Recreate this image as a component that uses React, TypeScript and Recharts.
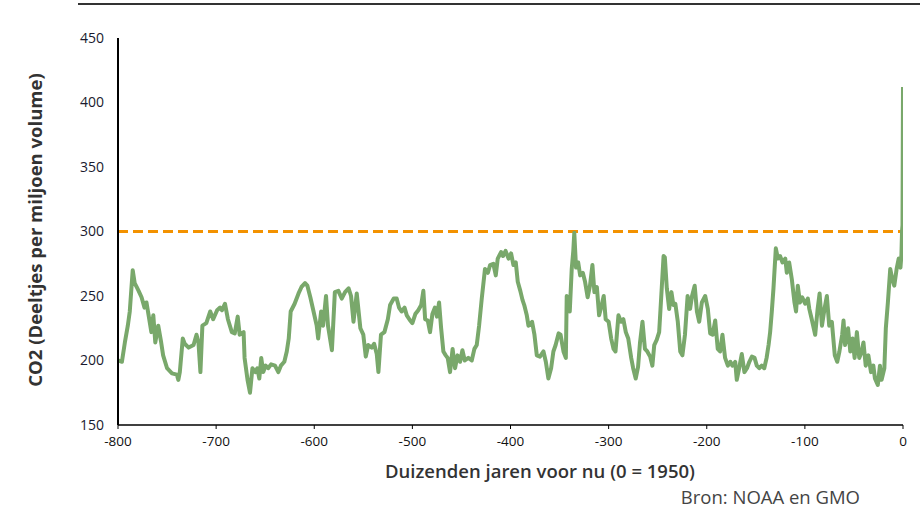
import React from 'react';
import { LineChart, Line, XAxis, YAxis, ReferenceLine } from 'recharts';

const years: number[] = [
  -800, -796, -793, -790, -788, -785, -783, -781, -779, -776, -773, -771, -769, -766, -764, -762, -759, -756, -754, -750,
  -745, -740, -738.5, -737, -734, -732, -728, -723, -720, -718, -716, -714, -710, -706, -703, -699, -696, -694, -691, -688,
  -684, -681, -678, -676, -672, -671, -668, -665.5, -663, -660, -658, -656, -654, -652, -649.5, -647, -644, -640, -636.6, -634,
  -630.5, -628, -626, -624, -620, -616, -613, -609.4, -607, -604, -601, -597.5, -596, -593, -591, -588, -586, -582, -579, -575.4,
  -572, -568.6, -565, -562.5, -560, -556.7, -553, -550, -547.5, -545, -541.4, -539, -536.3, -534.6, -532, -528.5, -525, -522.7, -519, -516,
  -513.6, -511, -508, -505.7, -502.3, -500, -497, -494, -491, -488.8, -487, -484.3, -482, -479.6, -477, -475, -472.8, -470.7, -468.4, -466,
  -464, -461.6, -459, -456.5, -454, -451.4, -449, -446.6, -443, -439.5, -436.8, -434.4, -432, -429.3, -426, -423, -420.8, -417.5, -415, -413,
  -409.6, -407.6, -405, -402, -399.4, -397, -394.6, -392.6, -390, -387.8, -386, -383.4, -381.7, -378, -375.6, -373.2, -370, -366.4, -364, -361.4,
  -358.6, -356.3, -354, -351, -349, -346, -343.6, -342.7, -340.3, -339.6, -337.6, -336, -335, -333.2, -331, -329, -326.3, -324, -321.4, -319,
  -316.5, -314.5, -312, -309.7, -307, -305, -303, -300, -297.4, -295, -293, -290, -287.3, -285, -282.5, -280, -277, -275, -272.4, -270,
  -268, -265.5, -263, -260.6, -257.7, -255.4, -253.5, -251, -248.5, -246.5, -244, -242.7, -240.7, -238.3, -236, -234, -232, -229.5, -227, -224.8,
  -222.2, -219.5, -217, -215, -212.3, -210, -207.7, -205, -201.6, -198.9, -196.5, -194, -191.4, -188.8, -186.4, -184, -181.3, -178.5, -176, -173.8,
  -171, -169.4, -167, -164.3, -161.6, -159, -156.6, -154, -151.3, -149, -146.5, -144, -141.4, -139, -137, -135.4, -133.7, -132, -129.6, -127.5,
  -125.3, -122.8, -120, -118.4, -116, -113.3, -110.6, -109, -107.2, -105, -102.7, -99.7, -97, -95.5, -93, -89.5, -87, -85, -82.6, -80,
  -77.6, -75.2, -72.5, -69.5, -67, -64.8, -62, -60.6, -59, -56, -53.7, -51.4, -49.3, -47, -44.6, -42, -40.3, -38, -35.3, -32.6,
  -30.2, -28.6, -25.7, -23.5, -21.8, -19, -17.5, -15.4, -13, -10.9, -8.9, -6.5, -4.4, -2.6, -1.6, -1, -0.5, 0,
];

const co2: number[] = [
  200, 199, 214, 227, 238, 270, 260, 257, 254, 249, 241, 245, 236, 222, 235, 214, 227, 214, 204, 194,
  190, 189, 185, 191, 217, 213, 210, 212, 220, 214, 191, 227, 229, 238, 232, 239, 241, 239, 244, 232,
  222, 221, 234, 220, 222, 202, 185, 175, 194, 191, 194, 186, 202, 191, 196, 194, 197, 196, 191, 196,
  199, 207, 217, 238, 244, 252, 257, 260, 258, 249, 239, 227, 217, 238, 227, 250, 227, 208, 253, 254,
  248, 253, 256, 250, 230, 252, 225, 220, 203, 212, 210, 213, 205, 191, 220, 222, 232, 243, 248, 248,
  241, 238, 241, 235, 231, 229, 236, 239, 243, 254, 232, 231, 222, 236, 241, 234, 245, 225, 207, 204,
  202, 191, 209, 194, 204, 199, 208, 200, 202, 200, 209, 212, 227, 248, 271, 268, 274, 275, 266, 279,
  284, 281, 285, 279, 283, 274, 276, 261, 254, 247, 243, 235, 227, 230, 220, 204, 203, 207, 199, 186,
  194, 207, 212, 221, 220, 207, 202, 250, 248, 238, 271, 285, 299, 272, 276, 266, 268, 261, 249, 258,
  274, 253, 257, 235, 243, 250, 232, 230, 217, 209, 207, 235, 230, 232, 222, 217, 202, 194, 186, 195,
  214, 230, 209, 207, 203, 196, 212, 216, 222, 248, 281, 280, 256, 240, 253, 243, 244, 230, 207, 204,
  220, 250, 240, 250, 258, 238, 230, 245, 250, 240, 221, 220, 231, 209, 207, 220, 202, 196, 199, 196,
  199, 185, 194, 205, 191, 194, 199, 203, 202, 196, 194, 196, 194, 202, 212, 222, 238, 256, 287, 279,
  281, 276, 279, 268, 276, 263, 245, 238, 258, 245, 249, 244, 248, 240, 232, 220, 240, 252, 227, 240,
  250, 227, 230, 204, 199, 207, 220, 231, 212, 225, 207, 217, 202, 222, 202, 207, 214, 196, 204, 191,
  196, 186, 181, 196, 185, 194, 225, 245, 271, 263, 258, 271, 279, 272, 282, 300, 305, 412,
];

const xTicks: number[] = [-800, -700, -600, -500, -400, -300, -200, -100, 0];
const yTicks: number[] = [150, 200, 250, 300, 350, 400, 450];
const preIndustrialMax = 300;

const xTitle = 'Duizenden jaren voor nu (0 = 1950)';
const yTitle = 'CO2 (Deeltjes per miljoen volume)';
const source = 'Bron: NOAA en GMO';

const data = years.map((y, i) => ({ year: y, co2: co2[i] }));

export default function App() {
  return (
    <div style={{ position: 'absolute', left: 0, top: 0, width: 920, height: 510, background: '#fff', fontFamily: '"Open Sans", sans-serif' }}>
      <div style={{ position: 'absolute', left: 78, top: 3, width: 842, height: 0, borderTop: '2px solid #333' }} />
      <LineChart width={920} height={510} data={data} margin={{ top: 38, right: 17, bottom: 55, left: 0 }}>
        <XAxis
          dataKey="year"
          type="number"
          domain={[-800, 0]}
          ticks={xTicks}
          allowDataOverflow
          height={30}
          axisLine={{ stroke: '#000', strokeWidth: 1.5 }}
          tickLine={{ stroke: '#000' }}
          tickSize={4}
          tickMargin={7}
          tick={{ fill: '#111', fontSize: 13.5, fontFamily: '"Open Sans", sans-serif' }}
        />
        <YAxis
          type="number"
          domain={[150, 450]}
          ticks={yTicks}
          width={118}
          axisLine={{ stroke: '#000', strokeWidth: 2 }}
          tickLine={false}
          tickSize={0}
          tickMargin={14}
          tick={{ fill: '#1a1a2e', fontSize: 14, fontFamily: '"Open Sans", sans-serif' }}
        />
        <ReferenceLine y={preIndustrialMax} stroke="#F39200" strokeWidth={3} strokeDasharray="10 5" />
        <Line
          type="linear"
          dataKey="co2"
          stroke="#79A86B"
          strokeWidth={4}
          dot={false}
          strokeLinejoin="round"
          isAnimationActive={false}
        />
      </LineChart>
      <div style={{ position: 'absolute', left: 240, width: 600, top: 458, textAlign: 'center', fontSize: 18.5, fontWeight: 600, color: '#333' }}>
        {xTitle}
      </div>
      <div style={{ position: 'absolute', left: 35, top: 230, width: 440, marginLeft: -220, marginTop: -13, height: 26, lineHeight: '26px', textAlign: 'center', transform: 'rotate(-90deg)', fontSize: 18.5, fontWeight: 700, color: '#333', whiteSpace: 'nowrap' }}>
        {yTitle}
      </div>
      <div style={{ position: 'absolute', right: 60, top: 484, fontSize: 18.5, color: '#444', whiteSpace: 'nowrap' }}>
        {source}
      </div>
    </div>
  );
}
